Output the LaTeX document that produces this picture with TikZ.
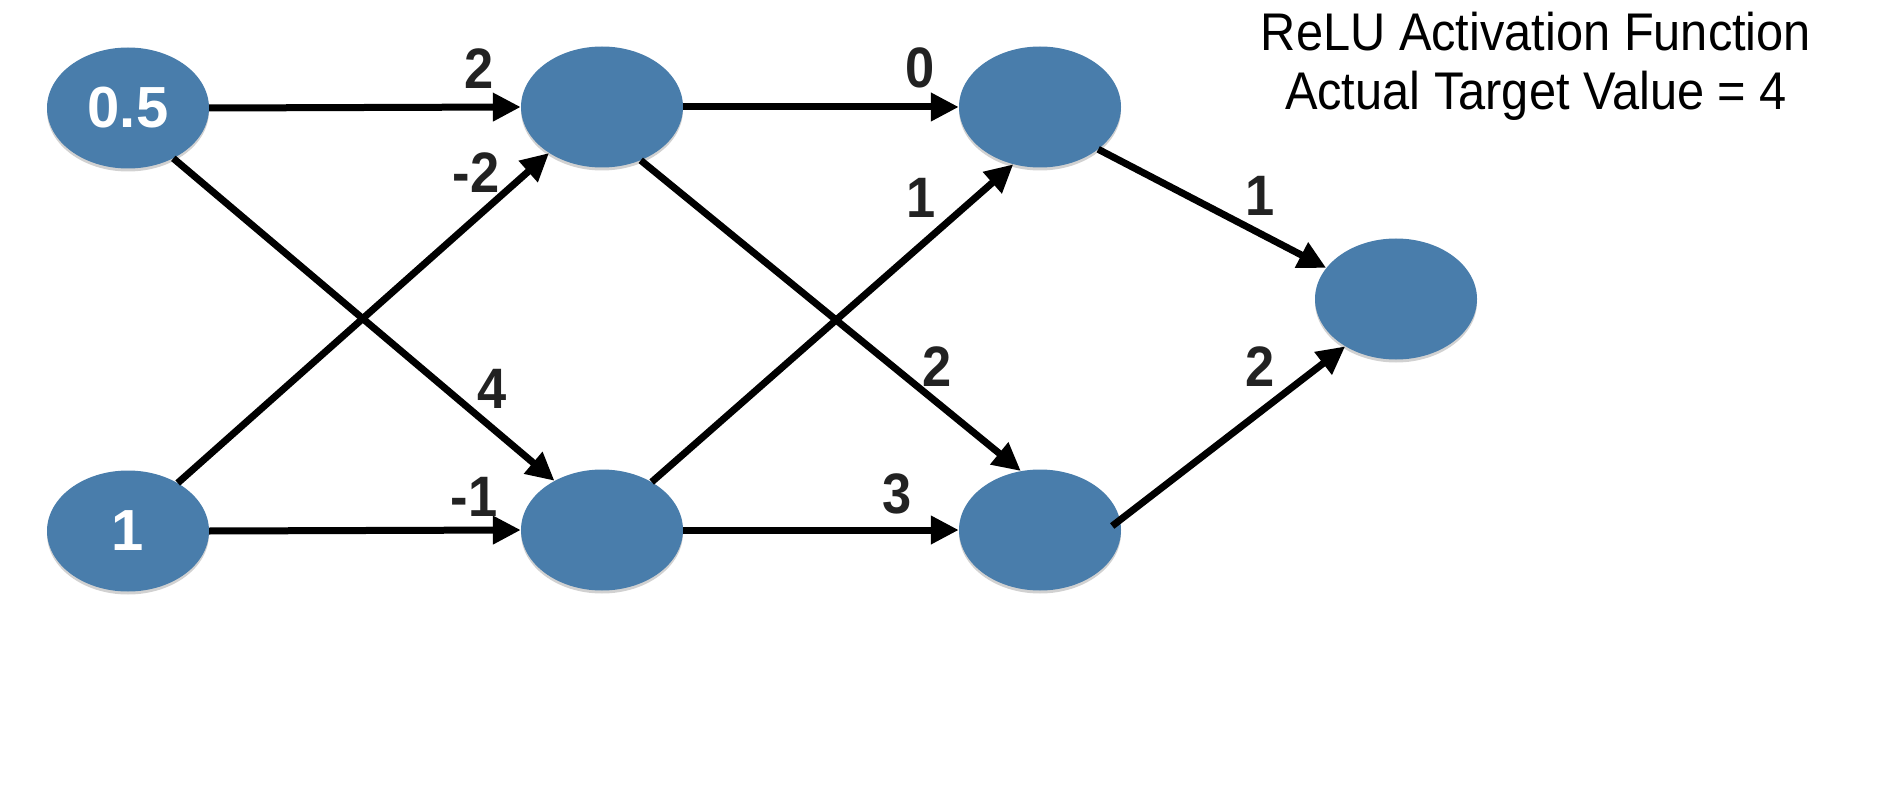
\documentclass[tikz,border=0pt]{standalone}
\usepackage{fontspec}
\setmainfont{Liberation Sans}
\newfontfamily\condfont[FakeStretch=0.92]{Liberation Sans}
\usetikzlibrary{shapes.geometric,arrows.meta,shadows}
\definecolor{nodeblue}{RGB}{73,125,171}
\definecolor{labelgray}{RGB}{34,34,34}
\begin{document}
\begin{tikzpicture}[x=1pt,y=-1pt,
  neuron/.style={ellipse, fill=nodeblue, minimum width=162pt, minimum height=121pt, inner sep=0pt,
    text=white, font=\bfseries\fontsize{58}{58}\selectfont,
    drop shadow={shadow xshift=0pt, shadow yshift=-3pt, opacity=0.18, fill=black}},
  conn/.style={line width=7pt, -{Triangle[length=28pt,width=27pt]}},
  wlabel/.style={text=labelgray, font=\condfont\bfseries\fontsize{57}{57}\selectfont, inner sep=0pt},
  title/.style={font=\condfont\fontsize{53}{53}\selectfont, anchor=base, inner sep=0pt}
]
\useasboundingbox (0,0) rectangle (1900,810);
\node[neuron] (A) at (128,108) {0.5};
\node[neuron] (B) at (128,531) {1};
\node[neuron] (C) at (602,107) {};
\node[neuron] (D) at (602,530) {};
\node[neuron] (E) at (1040,107) {};
\node[neuron] (F) at (1040,530) {};
\node[neuron] (G) at (1396,299) {};

\draw[conn] (A.east) -- (C.west);
\draw[conn] (A.-48) -- (D.134);
\draw[conn] (B.44) -- (C.221);
\draw[conn] (B.east) -- (D.west);
\draw[conn] (C.east) -- (E.west);
\draw[conn] (C.-54) -- (F.108);
\draw[conn] (D.44) -- (E.245);
\draw[conn] (D.east) -- (F.west);
\draw[conn] (E.-36) -- (G.156);
\coordinate (Fout) at ([xshift=-9pt,yshift=4pt]F.east);
\draw[conn] (Fout) -- (G.223);

\node[wlabel] (w1) at (479,69) {2};
\node[wlabel] (w2) at (476,173) {-2};
\node[wlabel] (w3) at (492,389) {4};
\node[wlabel] (w4) at (474,497) {-1};
\node[wlabel] (w5) at (920,68) {0};
\node[wlabel] (w6) at (921,198) {1};
\node[wlabel] (w7) at (937,367) {2};
\node[wlabel] (w8) at (897,494) {3};
\node[wlabel] (w9) at (1260,196) {1};
\node[wlabel] (w10) at (1260,367) {2};

\node[title] (t1) at (1536,51) {ReLU Activation Function};
\node[title] (t2) at (1536,110) {Actual Target Value = 4};
\end{tikzpicture}
\end{document}
